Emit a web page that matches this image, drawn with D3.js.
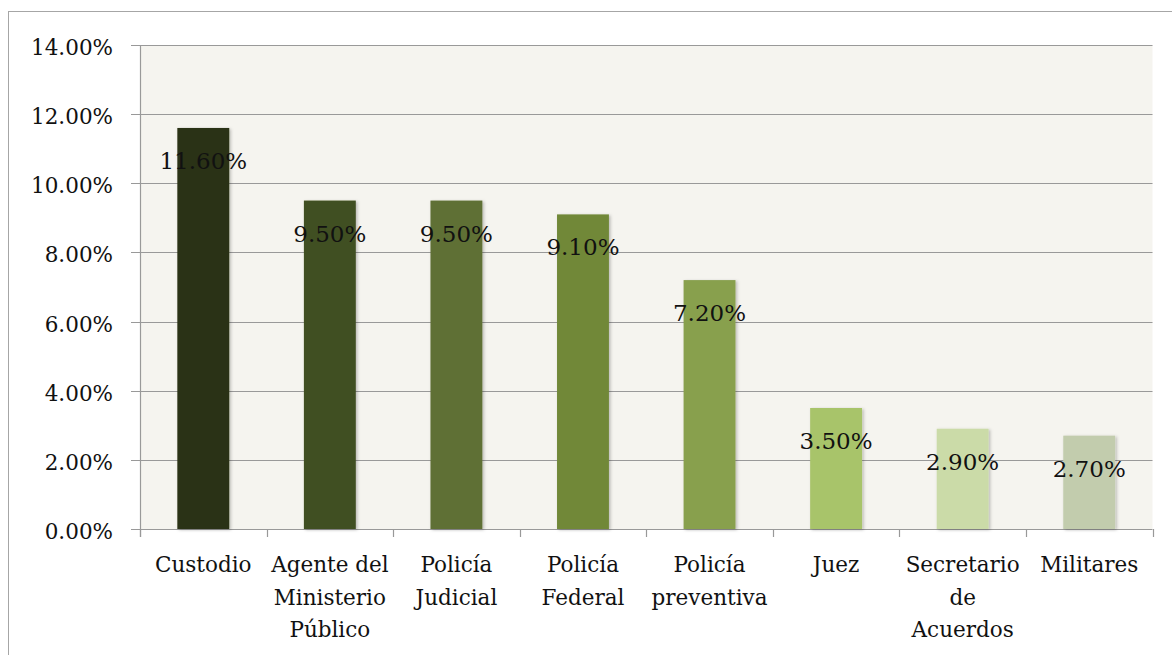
<!DOCTYPE html>
<html>
<head>
<meta charset="utf-8">
<style>
html, body {
    margin: 0;
    padding: 0;
    background: #fff;
    overflow: hidden;
}
svg text {
    font-family: "DejaVu Serif", serif;
    font-size: 21.5px;
    fill: #111;
}
svg text.value {
    font-size: 23px;
}
</style>
</head>
<body>
<script src="https://d3js.org/d3.v7.min.js"></script>
<script>
const categories = [
    ["Custodio"],
    ["Agente del", "Ministerio", "Público"],
    ["Policía", "Judicial"],
    ["Policía", "Federal"],
    ["Policía", "preventiva"],
    ["Juez"],
    ["Secretario", "de", "Acuerdos"],
    ["Militares"]
];
const values = [0.116, 0.095, 0.095, 0.091, 0.072, 0.035, 0.029, 0.027];
const colors = ["#2a3116", "#414f20", "#5f7035", "#718838", "#88a04e", "#a8c46a", "#cbdba8", "#c2ccad"];
const yTicks = [0, 0.02, 0.04, 0.06, 0.08, 0.10, 0.12, 0.14];

const [width, height] = [1172, 655];
const plot = {left: 140, right: 1152.5, top: 45, bottom: 529};

const svg = d3.select("body").append("svg")
    .attr("width", width)
    .attr("height", height);

const defs = svg.append("defs");
defs.append("filter")
    .attr("id", "shadow")
    .attr("x", "-20%").attr("y", "-5%")
    .attr("width", "140%").attr("height", "110%")
  .append("feDropShadow")
    .attr("dx", 1.5).attr("dy", 1)
    .attr("stdDeviation", 1.5)
    .attr("flood-color", "#000")
    .attr("flood-opacity", 0.25);

// outer chart border
svg.append("rect")
    .attr("x", 8.5).attr("y", 11.5)
    .attr("width", 1175).attr("height", 700)
    .attr("fill", "none")
    .attr("stroke", "#a6a6a6")
    .attr("stroke-width", 1);

const x = d3.scaleBand()
    .domain(d3.range(values.length))
    .range([plot.left, plot.right])
    .paddingInner(0.59)
    .paddingOuter(0.295);

const y = d3.scaleLinear()
    .domain([0, 0.14])
    .range([plot.bottom, plot.top]);

svg.append("rect")
    .attr("x", plot.left).attr("y", plot.top)
    .attr("width", plot.right - plot.left)
    .attr("height", plot.bottom - plot.top)
    .attr("fill", "#f5f4ef");

// gridlines
svg.append("g")
    .selectAll("line")
    .data(yTicks)
    .join("line")
        .attr("x1", plot.left - 9)
        .attr("x2", plot.right)
        .attr("y1", d => Math.round(y(d)) + 0.5)
        .attr("y2", d => Math.round(y(d)) + 0.5)
        .attr("stroke", "#999")
        .attr("stroke-width", 1.2);

// y axis line
svg.append("line")
    .attr("x1", plot.left + 0.5).attr("x2", plot.left + 0.5)
    .attr("y1", plot.top).attr("y2", plot.bottom + 8)
    .attr("stroke", "#999")
    .attr("stroke-width", 1.2);

// x tick marks at band boundaries
const step = x.step();
svg.append("g")
    .selectAll("line")
    .data(d3.range(values.length + 1))
    .join("line")
        .attr("x1", i => Math.round(plot.left + i * step) + 0.5)
        .attr("x2", i => Math.round(plot.left + i * step) + 0.5)
        .attr("y1", plot.bottom)
        .attr("y2", plot.bottom + 8)
        .attr("stroke", "#999")
        .attr("stroke-width", 1.2);

// y tick labels
svg.append("g")
    .selectAll("text")
    .data(yTicks)
    .join("text")
        .attr("x", 113)
        .attr("y", d => y(d) + 10)
        .attr("text-anchor", "end")
        .text(d => d3.format(".2%")(d));

// bars
svg.append("g")
    .selectAll("rect")
    .data(values)
    .join("rect")
        .attr("x", (d, i) => x(i))
        .attr("y", d => y(d))
        .attr("width", x.bandwidth())
        .attr("height", d => plot.bottom - y(d))
        .attr("fill", (d, i) => colors[i])
        .attr("filter", "url(#shadow)");

// value labels
svg.append("g")
    .selectAll("text")
    .data(values)
    .join("text")
        .attr("class", "value")
        .attr("x", (d, i) => x(i) + x.bandwidth() / 2)
        .attr("y", d => y(d) + 41)
        .attr("text-anchor", "middle")
        .text(d => d3.format(".2%")(d));

// category labels
const cat = svg.append("g")
    .selectAll("text")
    .data(categories)
    .join("text")
        .attr("x", (d, i) => x(i) + x.bandwidth() / 2)
        .attr("y", 572)
        .attr("text-anchor", "middle");

cat.selectAll("tspan")
    .data(d => d)
    .join("tspan")
        .attr("x", function() { return this.parentNode.getAttribute("x"); })
        .attr("dy", (d, i) => i === 0 ? 0 : 32.5)
        .text(d => d);
</script>
</body>
</html>
